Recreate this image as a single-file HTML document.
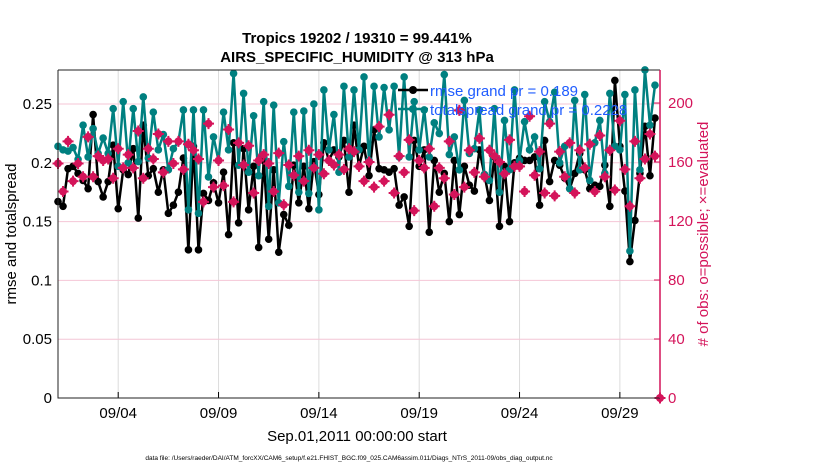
<!DOCTYPE html>
<html><head><meta charset="utf-8"><style>
body{margin:0;background:#fff;}
svg text{font-family:"Liberation Sans",Arial,sans-serif;}
</style></head><body>
<svg id="chart" width="830" height="470" xmlns="http://www.w3.org/2000/svg">
<text x="357" y="43" text-anchor="middle" font-size="15" font-weight="bold">Tropics 19202 / 19310 = 99.441%</text>
<text x="357" y="62" text-anchor="middle" font-size="15" font-weight="bold">AIRS_SPECIFIC_HUMIDITY @ 313 hPa</text>
<g id="grid"></g>
<g id="series"></g>
<g id="axes"></g>
<text transform="translate(16,234) rotate(-90)" text-anchor="middle" font-size="15">rmse and totalspread</text>
<text transform="translate(708,234) rotate(-90)" text-anchor="middle" font-size="15" fill="#d4145a"># of obs: o=possible; ×=evaluated</text>
<text x="357" y="441" text-anchor="middle" font-size="15">Sep.01,2011 00:00:00 start</text>
<text x="349" y="460" text-anchor="middle" font-size="6.5">data file: /Users/raeder/DAI/ATM_forcXX/CAM6_setup/f.e21.FHIST_BGC.f09_025.CAM6assim.011/Diags_NTrS_2011-09/obs_diag_output.nc</text>
<g>
<line x1="398" y1="90" x2="428" y2="90" stroke="#000" stroke-width="2.5"/>
<circle cx="413" cy="90" r="4" fill="#000"/>
<text x="430" y="96" font-size="15" fill="#1f5cff">rmse grand pr = 0.189</text>
<line x1="398" y1="109" x2="428" y2="109" stroke="#008080" stroke-width="2.5"/>
<circle cx="413" cy="109" r="4" fill="#008080"/>
<text x="430" y="115" font-size="15" fill="#1f5cff">totalspread grand pr = 0.2228</text>
</g>
</svg>
<script>
const xTickLabels=["09/04","09/09","09/14","09/19","09/24","09/29"];
const xTickDays=[3,8,13,18,23,28];
const yTicks=[0,0.05,0.1,0.15,0.2,0.25];
const yTickLabels=["0","0.05","0.1","0.15","0.2","0.25"];
const y2Ticks=[0,40,80,120,160,200];
const stepDays=0.25;
const spread=[0.214,0.211,0.210,0.213,0.203,0.232,0.205,0.229,0.208,0.221,0.208,0.246,0.197,0.252,0.200,0.246,0.201,0.256,0.204,0.243,0.211,0.224,0.194,0.212,0.218,0.245,0.160,0.245,0.157,0.245,0.188,0.222,0.202,0.243,0.211,0.276,0.198,0.259,0.192,0.240,0.189,0.252,0.163,0.249,0.166,0.218,0.180,0.243,0.175,0.244,0.174,0.250,0.160,0.262,0.211,0.241,0.192,0.265,0.205,0.262,0.211,
0.273,0.202,0.265,0.222,0.264,0.228,0.265,0.205,0.273,0.205,0.252,0.211,0.245,0.205,0.234,0.225,0.275,0.207,0.222,0.194,0.253,0.208,0.212,0.245,0.190,0.185,0.246,0.175,0.236,0.194,0.262,0.202,0.235,0.211,0.222,0.195,0.252,0.235,0.260,0.200,0.214,0.178,0.253,0.194,0.258,0.185,0.217,0.236,0.191,0.259,0.214,0.211,0.258,0.125,0.262,0.194,0.279,0.232,0.266];
const rmse=[0.167,0.163,0.195,0.197,0.191,0.185,0.178,0.241,0.184,0.171,0.184,0.215,0.161,0.194,0.190,0.212,0.153,0.232,0.189,0.195,0.175,0.194,0.157,0.164,0.175,0.204,0.126,0.214,0.126,0.174,0.168,0.183,0.166,0.192,0.139,0.217,0.149,0.212,0.160,0.197,0.128,0.202,0.135,0.194,0.124,0.156,0.147,0.198,0.166,0.197,0.161,0.201,0.173,0.217,0.202,0.211,0.205,0.219,0.175,0.232,0.197,
0.214,0.189,0.228,0.195,0.194,0.192,0.195,0.164,0.171,0.146,0.219,0.197,0.211,0.141,0.202,0.175,0.191,0.150,0.202,0.156,0.197,0.181,0.176,0.211,0.190,0.168,0.205,0.146,0.197,0.150,0.200,0.204,0.202,0.202,0.205,0.164,0.219,0.184,0.202,0.198,0.187,0.178,0.191,0.208,0.194,0.178,0.181,0.180,0.198,0.163,0.270,0.214,0.176,0.116,0.151,0.191,0.231,0.189,0.238];
const obsCount=[159,140,174,147,159,150,177,150,164,161,162,149,169,156,165,156,181,149,169,162,179,153,174,159,174,155,172,168,162,133,186,143,161,144,182,133,173,158,171,139,161,165,159,140,166,131,158,151,164,147,168,156,165,152,161,158,165,155,169,167,157,
147,160,143,184,147,192,139,164,153,175,127,161,156,169,130,156,149,174,138,195,143,168,153,176,150,168,164,160,152,175,157,157,140,191,151,167,139,186,137,167,150,173,139,168,156,172,140,178,150,168,141,188,155,130,174,149,162,179,164,0];

const NS="http://www.w3.org/2000/svg";
const L=58,R=660,T=70,B=398;
const xS=d=>L+(d/30)*(R-L);
const yS=v=>B-v*1176;
const y2S=c=>B-c*1.475;
function mk(tag,attrs,parent){const e=document.createElementNS(NS,tag);for(const k in attrs)e.setAttribute(k,attrs[k]);parent.appendChild(e);return e;}
const grid=document.getElementById('grid'),axes=document.getElementById('axes'),ser=document.getElementById('series');
xTickDays.forEach((d,i)=>{
 const g=mk('line',{x1:xS(d),x2:xS(d),y1:T,y2:B,stroke:'#dcdcdc','stroke-width':1},grid);
 
 
 const t=mk('line',{x1:xS(d),x2:xS(d),y1:B,y2:B-6,stroke:'#000'},axes);
 
 
 const tx=mk('text',{x:xS(d),y:B+20,'text-anchor':'middle','font-size':15},axes);tx.textContent=xTickLabels[i];
 
 
});
yTicks.forEach((v,i)=>{
 if(v>0){const g=mk('line',{x1:L,x2:R,y1:yS(v),y2:yS(v),stroke:'#f4c6d6','stroke-width':1},grid);
 
 }
 const tx=mk('text',{x:L-6,y:yS(v)+5,'text-anchor':'end','font-size':15},axes);tx.textContent=yTickLabels[i];
 
 
});
y2Ticks.forEach(c=>{
 const t=mk('line',{x1:R,x2:R-6,y1:y2S(c),y2:y2S(c),stroke:'#d4145a'},axes);
 
 
 const tx=mk('text',{x:R+8,y:y2S(c)+5,'font-size':15,fill:'#d4145a'},axes);tx.textContent=c;
 
 
});
const ax=mk('path',{d:`M${L} ${T}V${B}H${R}M${L} ${T}H${R}`,fill:'none',stroke:'#222','stroke-width':1},axes);


const ra=mk('line',{x1:R,x2:R,y1:T,y2:B,stroke:'#d4145a','stroke-width':1.5},axes);



function line(vals,sc,color,name){
 const g=mk('g',{},ser);
 
 
 const d=vals.map((v,i)=>(i?'L':'M')+xS(i*stepDays).toFixed(1)+' '+sc(v).toFixed(1)).join('');
 mk('path',{d:d,fill:'none',stroke:color,'stroke-width':2.5},g);
 vals.forEach((v,i)=>{const c=mk('circle',{cx:xS(i*stepDays),cy:sc(v),r:3.8,fill:color},g);
  
  });
}
line(rmse,yS,'#000','rmse-series');
line(spread,yS,'#008080','totalspread-series');
const og=mk('g',{},ser);


obsCount.forEach((c,i)=>{
 const x=xS(i*stepDays),y=y2S(c);
 const m=mk('g',{},og);
 
 
 mk('circle',{cx:x,cy:y,r:4,fill:'#d4145a'},m);
 mk('path',{d:`M${x-5.5} ${y}H${x+5.5}M${x} ${y-5.5}V${y+5.5}`,stroke:'#d4145a','stroke-width':2},m);
});
</script>
</body></html>
